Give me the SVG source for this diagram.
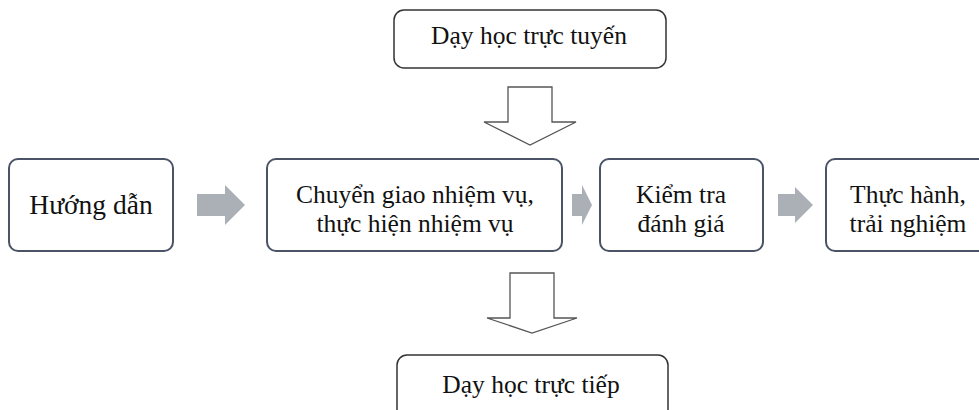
<svg xmlns="http://www.w3.org/2000/svg" width="979" height="410" viewBox="0 0 979 410">
<style>
.box{fill:#fff;stroke:#4a5466;stroke-width:2}
.obox{fill:#fff;stroke:#333;stroke-width:1.5}
.t{font-family:"Liberation Serif","Times New Roman",serif;fill:#111;text-anchor:middle}
.ga{fill:#abafb6}
.ha{fill:#fff;stroke:#555;stroke-width:1.3;stroke-linejoin:miter}
</style>
<rect width="979" height="410" fill="#fff"/>
<g id="node-online">
<rect class="obox" x="394" y="10" width="272" height="58" rx="10"/>
<text class="t" x="529" y="44" font-size="25.5">Dạy học trực tuyến</text>
</g>
<g id="node-huongdan">
<rect class="box" x="9" y="159" width="164" height="92" rx="9"/>
<text class="t" x="91" y="214" font-size="27.5">Hướng dẫn</text>
</g>
<g id="node-chuyengiao">
<rect class="box" x="267" y="159" width="295" height="92" rx="9"/>
<text class="t" x="415" y="203" font-size="25.5">Chuyển giao nhiệm vụ,</text>
<text class="t" x="415" y="232" font-size="25.5">thực hiện nhiệm vụ</text>
</g>
<g id="node-kiemtra">
<rect class="box" x="600" y="159" width="163" height="92" rx="9"/>
<text class="t" x="681" y="203" font-size="25.5">Kiểm tra</text>
<text class="t" x="681" y="232" font-size="25.5">đánh giá</text>
</g>
<g id="node-thuchanh">
<rect class="box" x="826" y="159" width="175" height="92" rx="9"/>
<text class="t" x="908" y="203" font-size="25.5">Thực hành,</text>
<text class="t" x="908" y="232" font-size="25.5">trải nghiệm</text>
</g>
<g id="node-direct">
<rect class="obox" x="397" y="355" width="271" height="70" rx="10"/>
<text class="t" x="531" y="393" font-size="25.5">Dạy học trực tiếp</text>
</g>
<g id="connectors">
<polygon class="ga" points="197,194 225,194 225,185 245,205 225,225 225,216 197,216"/>
<polygon class="ga" points="572,194 582,194 582,185 592,205 582,225 582,216 572,216"/>
<polygon class="ga" points="778,194 795,194 795,187 813,205 795,223 795,216 778,216"/>
<polygon class="ha" points="508,87 552,87 552,122 576,122 530,145 484,122 508,122"/>
<polygon class="ha" points="510,273 554,273 554,318 577,318 532,333 487,318 510,318"/>
</g>
</svg>
